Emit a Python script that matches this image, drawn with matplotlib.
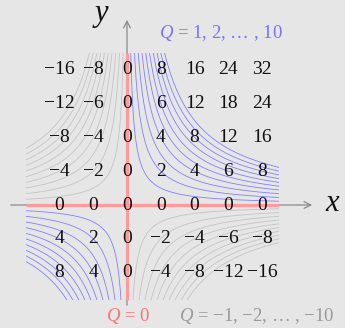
import numpy as np
import matplotlib
matplotlib.use('Agg')
import matplotlib.pyplot as plt
from matplotlib.patches import Rectangle

plt.rcParams['font.family'] = 'Liberation Serif'
plt.rcParams['mathtext.fontset'] = 'custom'
plt.rcParams['mathtext.rm'] = 'Liberation Serif'
plt.rcParams['mathtext.it'] = 'Liberation Serif:italic'

# grid points and values Q = 2xy
xs = [-2, -1, 0, 1, 2, 3, 4]
ys = [4, 3, 2, 1, 0, -1, -2]
q_levels = list(range(1, 11))

# region where the curves are drawn
box_x = [-3.0, 4.5]
box_y = [-2.8, 4.5]

BLUE = '#8080ff'
GRAY = '#c4c4c4'
RED = '#ff9a9a'
AXIS = '#8a8a8a'

scale = 33.8   # pixels per unit
ox, oy = 127, 205
W, H = 345, 328

fig = plt.figure(figsize=(W/100, H/100), dpi=100)
fig.patch.set_facecolor('#e6e6e6')
ax = fig.add_axes([0, 0, 1, 1])
ax.set_facecolor('#e6e6e6')
ax.set_xlim(-ox/scale, (W-ox)/scale)
ax.set_ylim(-(H-oy)/scale, oy/scale)
ax.axis('off')

clip = Rectangle((box_x[0], box_y[0]), box_x[1]-box_x[0], box_y[1]-box_y[0],
                 transform=ax.transData, fill=False, visible=False)
ax.add_patch(clip)

xp = np.linspace(0.005, 4.6, 3000)
xn = np.linspace(-3.1, -0.005, 3000)
for q in q_levels:
    # Q > 0 in first/third quadrants, Q < 0 in second/fourth
    for xx in (xp, xn):
        l, = ax.plot(xx, q/(2*xx), color=BLUE, lw=0.6, zorder=2)
        l.set_clip_path(clip)
        l, = ax.plot(xx, -q/(2*xx), color=GRAY, lw=0.6, zorder=2)
        l.set_clip_path(clip)

# axes
ax.annotate('', xy=(5.56, 0), xytext=(-3.52, 0),
            arrowprops=dict(arrowstyle='->', color=AXIS, lw=0.9, mutation_scale=12), zorder=1)
ax.annotate('', xy=(0, 5.56), xytext=(0, -3.05),
            arrowprops=dict(arrowstyle='->', color=AXIS, lw=0.9, mutation_scale=12), zorder=1)

# Q = 0 lines
ax.plot(box_x, [0, 0], color=RED, lw=2.3, zorder=3, solid_capstyle='butt')
ax.plot([0, 0], box_y, color=RED, lw=2.3, zorder=3, solid_capstyle='butt')

for y in ys:
    for x in xs:
        v = 2*x*y
        s = str(v).replace('-', '\u2212')
        ax.text(x, y, s, ha='center', va='center', fontsize=14, color='#111111', zorder=5)

ax.text(6.09, 0.03, '$x$', fontsize=22, ha='center', va='center', color='#111111')
ax.text(-0.77, 5.62, '$y$', fontsize=22, ha='center', va='center', color='#111111')

ax.text(2.78, 5.09, '$Q$ = 1, 2, \u2026 , 10', fontsize=13.5, ha='center', va='center', color='#7373ff')
ax.text(0.03, -3.27, '$Q$ = 0', fontsize=13.5, ha='center', va='center', color='#ff7070')
ax.text(3.85, -3.27, '$Q$ = \u22121, \u22122, \u2026 , \u221210', fontsize=13.5, ha='center', va='center', color='#9a9a9a')

fig.savefig('out.png', dpi=100, facecolor=fig.get_facecolor())
